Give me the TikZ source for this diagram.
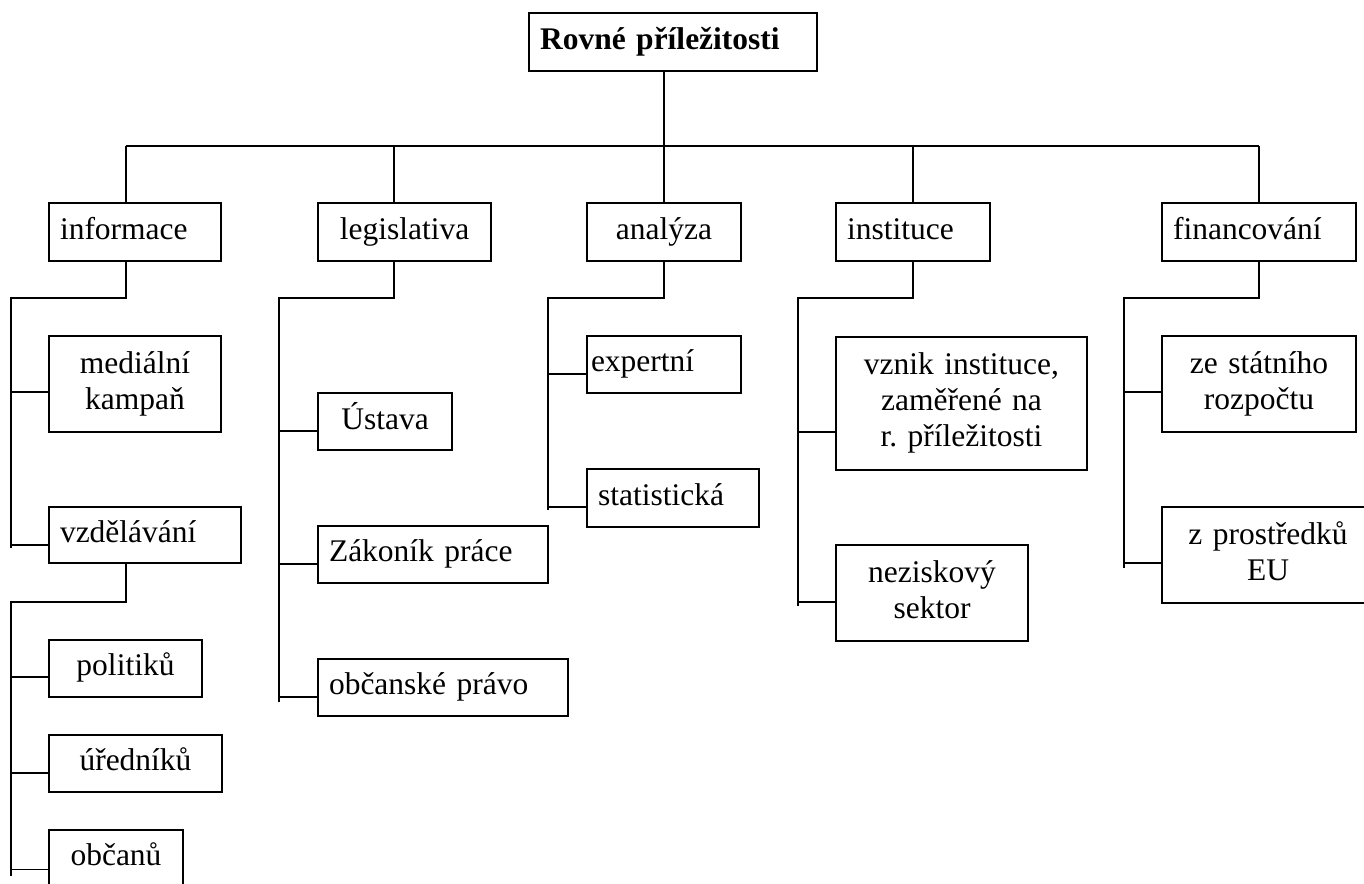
\documentclass[tikz,border=0pt]{standalone}
\usepackage{fontspec}
\setmainfont{Liberation Serif}
\frenchspacing
\begin{document}
\begin{tikzpicture}[x=1pt,y=-1pt,
  box/.style={draw, line width=2.1pt, rectangle, inner ysep=0pt,
    font=\fontsize{31.5}{36}\selectfont\frenchspacing,
    execute at begin node={\strut}, execute at end node={\strut}},
  lbox/.style={box, align=left, inner xsep=11pt},
  cbox/.style={box, align=center, inner xsep=4pt},
  main/.style={line width=2.4pt},
  sub/.style={line width=1.8pt},
  subt/.style={line width=1.5pt}]
\useasboundingbox (0,0) rectangle (1364,883);
\clip (0,0) rectangle (1364,883);
% root
\node[lbox, text width=266pt, minimum width=288pt, minimum height=58pt, font=\fontsize{31.5}{36}\selectfont\bfseries\frenchspacing] (root) at (673,42) {Rovné příležitosti};
% level 1
\node[lbox, text width=150pt, minimum width=172pt, minimum height=58pt] (inf) at (135,232) {informace};
\node[cbox, text width=165pt, minimum width=173pt, minimum height=58pt] (leg) at (404.5,232) {legislativa};
\node[cbox, text width=146pt, minimum width=154pt, minimum height=58pt] (ana) at (664,232) {analýza};
\node[lbox, text width=132pt, minimum width=154pt, minimum height=58pt] (ins) at (913,232) {instituce};
\node[lbox, text width=172pt, minimum width=194pt, minimum height=58pt] (fin) at (1259,232) {financování};
% bus
\coordinate (busL) at (126,146);
\coordinate (busR) at (1259,146);
\draw[main] (root.south -| ana.north) -- (ana.north);
\draw[main] (busL) -- (busR);
\draw[main] (busL) -- (inf.north -| busL);
\draw[main] ([xshift=-10.5pt]leg.north) -- ([xshift=-10.5pt]leg.north |- busL);
\draw[main] (ins.north) -- (ins.north |- busL);
\draw[main] (fin.north) -- (fin.north |- busL);
% informace subtree
\node[cbox, text width=164pt, minimum width=172pt, minimum height=96pt] (med) at (135,384) {mediální\\kampaň};
\node[lbox, text width=170pt, minimum width=192pt, minimum height=56pt] (vzd) at (145,535) {vzdělávání};
\coordinate (infV) at (11,298);
\coordinate (infE) at (11,548);
\draw[sub] (inf.south -| busL) |- (infV) -- (infE);
\draw[sub] ([yshift=-8pt]med.west) -- ([yshift=-8pt]med.west -| infV);
\draw[sub] ([yshift=-10pt]vzd.west) -- ([yshift=-10pt]vzd.west -| infV);
% vzdelavani subtree
\node[cbox, text width=145pt, minimum width=153pt, minimum height=57pt] (pol) at (125.5,668.5) {politiků};
\node[cbox, text width=165pt, minimum width=173pt, minimum height=57pt] (ure) at (135.5,763.5) {úředníků};
\node[cbox, text width=126pt, minimum width=134pt, minimum height=57pt] (obc) at (116,858.5) {občanů};
\coordinate (vzdV) at (11,602);
\coordinate (vzdE) at (11,876);
\draw[subt] (vzd.south -| busL) |- (vzdV) -- (vzdE);
\draw[subt] ([yshift=-8.5pt]pol.west) -- ([yshift=-8.5pt]pol.west -| vzdV);
\draw[subt] ([yshift=-9.5pt]ure.west) -- ([yshift=-9.5pt]ure.west -| vzdV);
\draw[subt] ([yshift=-11pt]obc.west) -- ([yshift=-11pt]obc.west -| vzdV);
% legislativa subtree
\node[cbox, text width=126pt, minimum width=134pt, minimum height=57pt] (ust) at (385,421.5) {Ústava};
\node[lbox, text width=208pt, minimum width=230pt, minimum height=57pt] (zak) at (433,554.5) {Zákoník práce};
\node[lbox, text width=228pt, minimum width=250pt, minimum height=57pt] (obp) at (443,687.5) {občanské právo};
\coordinate (legV) at (279,298);
\coordinate (legE) at (279,702);
\draw[sub] ([xshift=-10.5pt]leg.south) |- (legV) -- (legE);
\draw[sub] ([yshift=-9.5pt]ust.west) -- ([yshift=-9.5pt]ust.west -| legV);
\draw[sub] ([yshift=-9.5pt]zak.west) -- ([yshift=-9.5pt]zak.west -| legV);
\draw[sub] ([yshift=-9.5pt]obp.west) -- ([yshift=-9.5pt]obp.west -| legV);
% analyza subtree
\node[lbox, inner xsep=4pt, text width=146pt, minimum width=154pt, minimum height=57pt] (exp) at (664,364.5) {expertní};
\node[lbox, text width=150pt, minimum width=172pt, minimum height=58pt] (sta) at (673,498) {statistická};
\coordinate (anaV) at (548,298);
\coordinate (anaE) at (548,510);
\draw[sub] (ana.south) |- (anaV) -- (anaE);
\draw[sub] ([yshift=-9.5pt]exp.west) -- ([yshift=-9.5pt]exp.west -| anaV);
\draw[sub] ([yshift=-9pt]sta.west) -- ([yshift=-9pt]sta.west -| anaV);
% instituce subtree
\node[cbox, text width=243pt, minimum width=251pt, minimum height=133pt] (vzn) at (961.5,403.5) {vznik instituce,\\zaměřené na\\r. příležitosti};
\node[cbox, text width=184pt, minimum width=192pt, minimum height=96pt] (nez) at (932,593) {neziskový\\sektor};
\coordinate (insV) at (798,298);
\coordinate (insE) at (798,606);
\draw[sub] (ins.south) |- (insV) -- (insE);
\draw[sub] ([yshift=-28.5pt]vzn.west) -- ([yshift=-28.5pt]vzn.west -| insV);
\draw[sub] ([yshift=-9pt]nez.west) -- ([yshift=-9pt]nez.west -| insV);
% financovani subtree
\node[cbox, text width=186pt, minimum width=194pt, minimum height=96pt] (zes) at (1259,384) {ze státního\\rozpočtu};
\node[cbox, text width=204pt, minimum width=212pt, minimum height=96pt] (zpr) at (1268,555) {z prostředků\\EU};
\coordinate (finV) at (1124,298);
\coordinate (finE) at (1124,568);
\draw[sub] (fin.south) |- (finV) -- (finE);
\draw[sub] ([yshift=-8pt]zes.west) -- ([yshift=-8pt]zes.west -| finV);
\draw[sub] ([yshift=-8pt]zpr.west) -- ([yshift=-8pt]zpr.west -| finV);
\end{tikzpicture}
\end{document}
